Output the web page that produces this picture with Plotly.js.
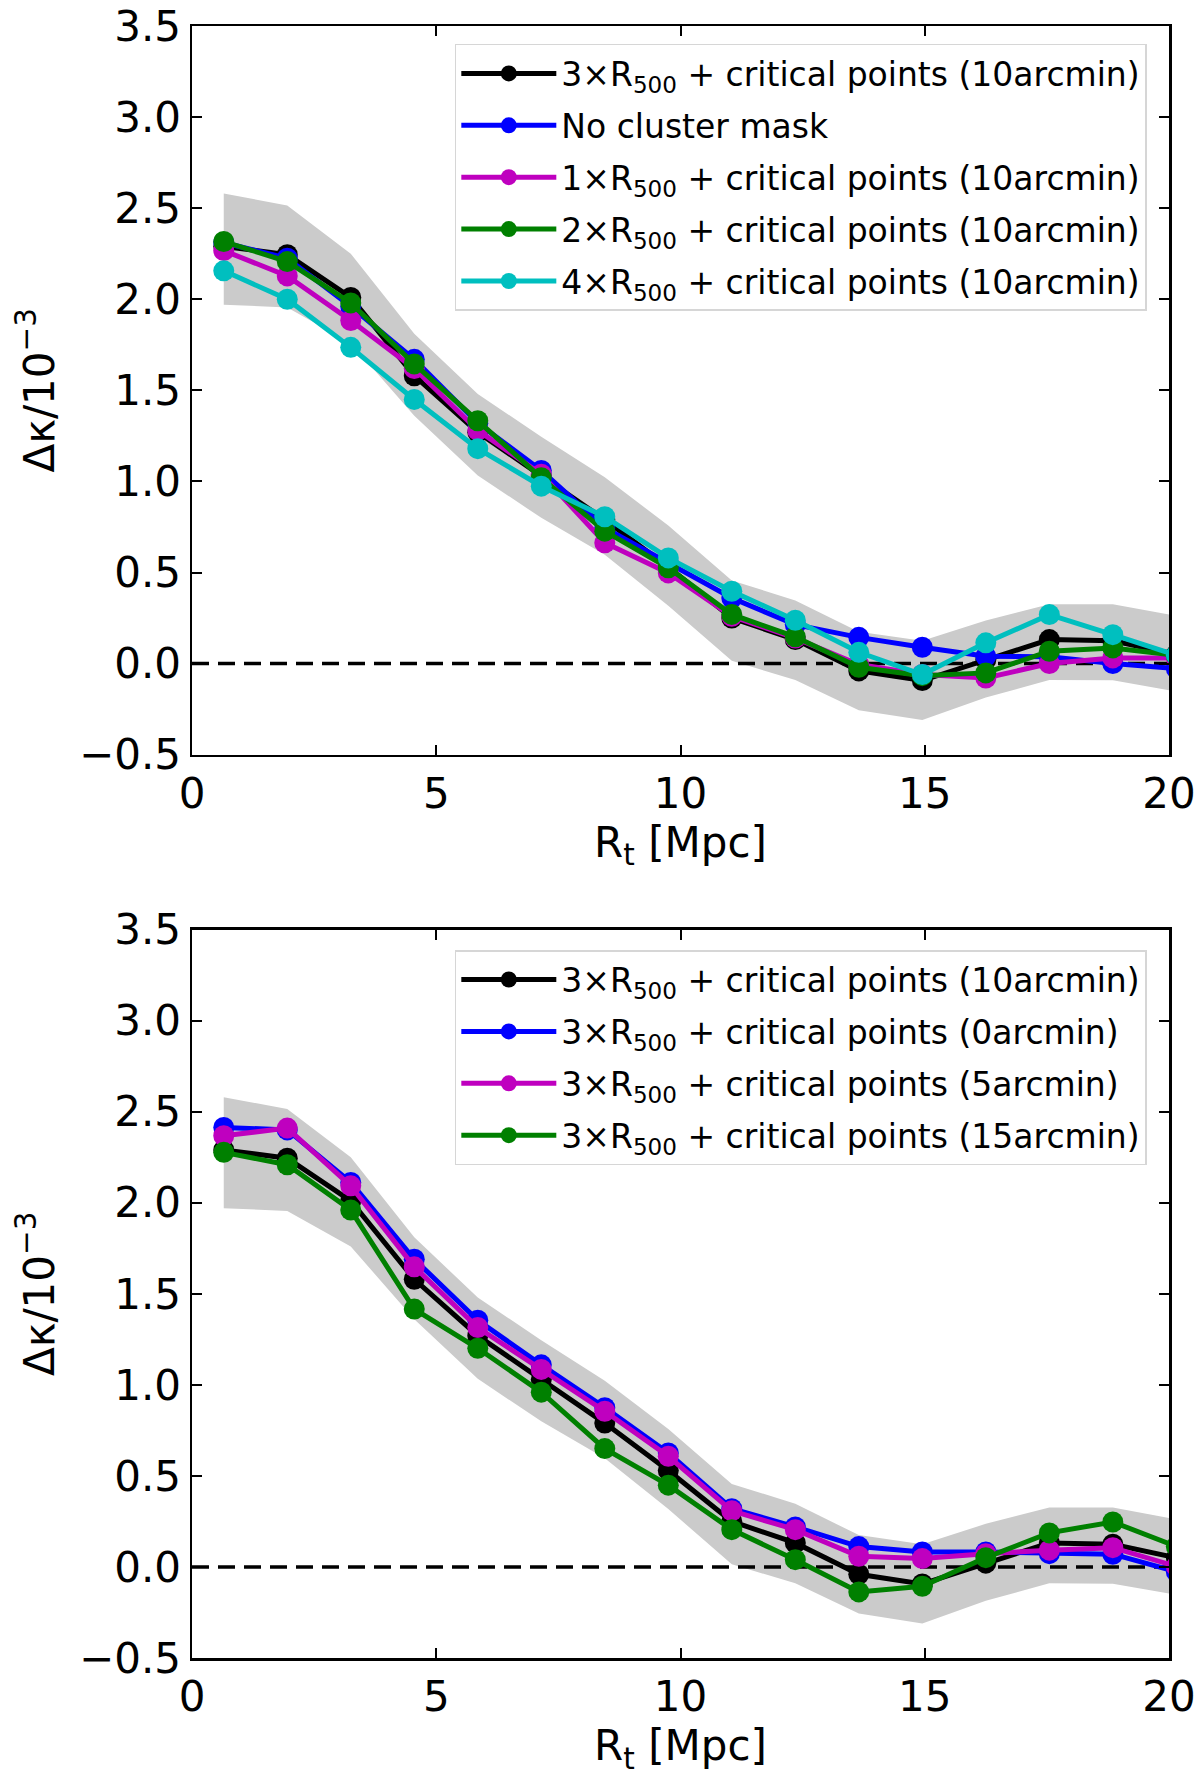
<!DOCTYPE html>
<html>
<head>
<meta charset="utf-8">
<script src="https://cdn.plot.ly/plotly-3.0.1.min.js"></script>
<style>
  body { margin: 0; background: #fff; }
  #plot { width: 1200px; height: 1778px; }
</style>
</head>
<body>
<div id="plot"></div>
<script>
// radial bins (Mpc)
const rt = [0.65, 1.95, 3.25, 4.55, 5.85, 7.15, 8.45, 9.75, 11.05, 12.35, 13.65, 14.95, 16.25, 17.55, 18.85, 20.15];

// grey error band (same in both panels)
const bandHigh = [2.58, 2.515, 2.25, 1.81, 1.48, 1.245, 1.023, 0.758, 0.456, 0.347, 0.175, 0.125, 0.237, 0.326, 0.326, 0.262];
const bandLow = [1.97, 1.955, 1.76, 1.36, 1.033, 0.80, 0.597, 0.318, 0.015, -0.09, -0.256, -0.31, -0.186, -0.09, -0.092, -0.153];

// top panel
const mask3_10 = [2.29, 2.245, 2.01, 1.58, 1.27, 1.03, 0.79, 0.53, 0.25, 0.132, -0.04, -0.093, 0.021, 0.132, 0.125, 0.05];
const noMask = [2.31, 2.225, 1.96, 1.67, 1.32, 1.06, 0.745, 0.553, 0.36, 0.214, 0.144, 0.09, 0.04, 0.037, 0.0, -0.027];
const mask1_10 = [2.267, 2.128, 1.883, 1.62, 1.28, 1.04, 0.663, 0.498, 0.26, 0.14, -0.005, -0.06, -0.079, 0.0, 0.031, 0.031];
const mask2_10 = [2.317, 2.207, 1.98, 1.645, 1.333, 1.02, 0.727, 0.526, 0.27, 0.147, -0.02, -0.066, -0.051, 0.068, 0.086, 0.045];
const mask4_10 = [2.156, 2.0, 1.736, 1.45, 1.18, 0.974, 0.806, 0.58, 0.397, 0.238, 0.062, -0.06, 0.114, 0.269, 0.159, 0.046];

// bottom panel
const mask3_0 = [2.414, 2.40, 2.112, 1.69, 1.355, 1.11, 0.875, 0.626, 0.32, 0.22, 0.112, 0.082, 0.082, 0.073, 0.07, -0.026];
const mask3_5 = [2.368, 2.41, 2.093, 1.648, 1.315, 1.085, 0.855, 0.608, 0.308, 0.205, 0.059, 0.046, 0.073, 0.092, 0.106, 0.003];
const mask3_15 = [2.277, 2.209, 1.96, 1.416, 1.201, 0.96, 0.65, 0.449, 0.205, 0.04, -0.137, -0.106, 0.051, 0.187, 0.247, 0.113];

const zeroX = [0, 20];
const zeroY = [0, 0];

const labelsTop = [
    '3×R<sub>500</sub> + critical points (10arcmin)',
    'No cluster mask',
    '1×R<sub>500</sub> + critical points (10arcmin)',
    '2×R<sub>500</sub> + critical points (10arcmin)',
    '4×R<sub>500</sub> + critical points (10arcmin)'
];
const labelsBottom = [
    '3×R<sub>500</sub> + critical points (10arcmin)',
    '3×R<sub>500</sub> + critical points (0arcmin)',
    '3×R<sub>500</sub> + critical points (5arcmin)',
    '3×R<sub>500</sub> + critical points (15arcmin)'
];

const FONT = 'DejaVu Sans';

function band(xa, ya) {
    return [
        { x: rt, y: bandLow, xaxis: xa, yaxis: ya, mode: 'lines', line: { width: 0 },
          showlegend: false, hoverinfo: 'skip' },
        { x: rt, y: bandHigh, xaxis: xa, yaxis: ya, mode: 'lines', line: { width: 0 },
          fill: 'tonexty', fillcolor: '#cbcbcb', showlegend: false, hoverinfo: 'skip' },
        { x: zeroX, y: zeroY, xaxis: xa, yaxis: ya, mode: 'lines',
          line: { color: 'black', width: 3.5, dash: '17px,9px' }, showlegend: false, hoverinfo: 'skip' }
    ];
}

function curve(y, color, name, xa, ya, leg, grp) {
    return {
        x: rt, y: y, xaxis: xa, yaxis: ya, name: name,
        mode: 'lines+markers',
        line: { color: color, width: 5 },
        marker: { color: color, size: 21 },
        legend: leg, legendgroup: grp
    };
}

const data = [
    ...band('x', 'y'),
    curve(mask3_10, 'black', labelsTop[0], 'x', 'y', 'legend', 'a0'),
    curve(noMask, '#0000ff', labelsTop[1], 'x', 'y', 'legend', 'a1'),
    curve(mask1_10, '#bf00bf', labelsTop[2], 'x', 'y', 'legend', 'a2'),
    curve(mask2_10, '#008000', labelsTop[3], 'x', 'y', 'legend', 'a3'),
    curve(mask4_10, '#00bfbf', labelsTop[4], 'x', 'y', 'legend', 'a4'),
    ...band('x2', 'y2'),
    curve(mask3_10, 'black', labelsBottom[0], 'x2', 'y2', 'legend2', 'b0'),
    curve(mask3_0, '#0000ff', labelsBottom[1], 'x2', 'y2', 'legend2', 'b1'),
    curve(mask3_5, '#bf00bf', labelsBottom[2], 'x2', 'y2', 'legend2', 'b2'),
    curve(mask3_15, '#008000', labelsBottom[3], 'x2', 'y2', 'legend2', 'b3')
];

function xAxis(anchor) {
    return {
        anchor: anchor,
        range: [0, 20],
        tickvals: [0, 5, 10, 15, 20],
        ticks: 'inside', ticklen: 10, tickwidth: 2, tickcolor: 'black',
        showline: true, linecolor: 'black', linewidth: 2.5, mirror: 'ticks',
        showgrid: false, zeroline: false,
        tickfont: { family: FONT, size: 42, color: 'black' },
        title: { text: 'R<sub>t</sub> [Mpc]', font: { family: FONT, size: 42, color: 'black' }, standoff: 8 }
    };
}

function yAxis(anchor, domain) {
    return {
        anchor: anchor,
        domain: domain,
        range: [-0.5, 3.5],
        dtick: 0.5,
        tickformat: '.1f',
        ticks: 'inside', ticklen: 10, tickwidth: 2, tickcolor: 'black',
        showline: true, linecolor: 'black', linewidth: 2.5, mirror: 'ticks',
        showgrid: false, zeroline: false,
        tickfont: { family: FONT, size: 42, color: 'black' },
        title: { text: 'Δκ/10<sup>−3</sup>', font: { family: FONT, size: 42, color: 'black' }, standoff: 12 }
    };
}

function legendBox(y) {
    return {
        x: 0.269, y: y, xanchor: 'left', yanchor: 'top',
        bgcolor: 'rgba(255,255,255,0.85)',
        bordercolor: '#d6d6d6', borderwidth: 1.5,
        font: { family: FONT, size: 33, color: 'black' },
        itemwidth: 95,
        traceorder: 'grouped',
        tracegroupgap: 6
    };
}

const layout = {
    width: 1200,
    height: 1778,
    margin: { l: 192, r: 31, t: 26, b: 120 },
    paper_bgcolor: 'white',
    plot_bgcolor: 'white',
    showlegend: true,
    xaxis: xAxis('y'),
    yaxis: yAxis('x', [0.5535, 1]),
    xaxis2: xAxis('y2'),
    yaxis2: yAxis('x2', [0, 0.4463]),
    legend: legendBox(0.989),
    legend2: legendBox(0.4338)
};

Plotly.newPlot('plot', data, layout, { displayModeBar: false, staticPlot: true });
</script>
</body>
</html>
